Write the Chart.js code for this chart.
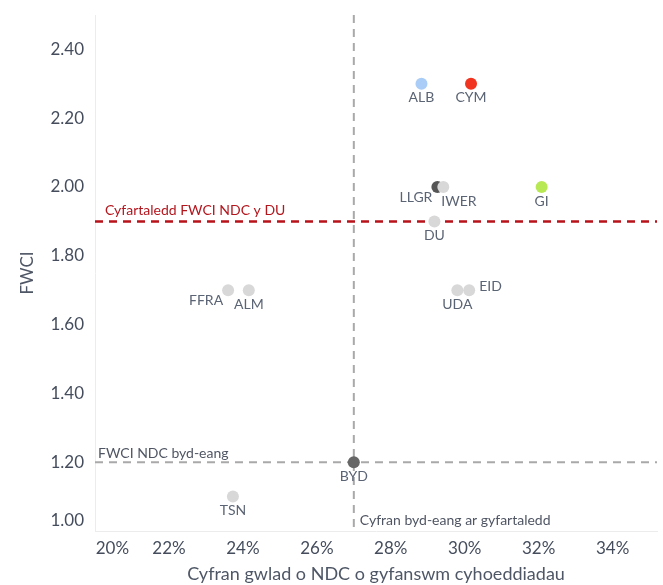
<!DOCTYPE html>
<html>
<head>
<meta charset="utf-8">
<script src="https://cdn.jsdelivr.net/npm/chart.js@4"></script>
<style>
  html, body { margin: 0; padding: 0; background: #fff; }
  #wrap { width: 663px; height: 585px; }
</style>
</head>
<body>
<div id="wrap"><canvas id="myChart"></canvas></div>
<script>
// data
const countries = ["ALB", "CYM", "LLGR", "IWER", "GI", "DU", "FFRA", "ALM", "UDA", "EID", "BYD", "TSN"];
const shareValues = [28.83, 30.17, 29.26, 29.42, 32.08, 29.18, 23.6, 24.16, 29.8, 30.12, 27.0, 23.73];
const fwciValues = [2.30, 2.30, 2.00, 2.00, 2.00, 1.90, 1.70, 1.70, 1.70, 1.70, 1.20, 1.10];
const labelSpots = ["below", "below", "left", "belowRight", "below", "below", "left", "below", "below", "upRight", "below", "below"];
const xTicks = [20, 22, 24, 26, 28, 30, 32, 34];
const yTicks = [1.0, 1.2, 1.4, 1.6, 1.8, 2.0, 2.2, 2.4];
const ukFwci = 1.90;
const worldFwci = 1.20;
const worldShare = 27.0;

const lightGrey = "#d8d8d8";
const pointColours = ["#a9cdf6", "#f0341f", "#555555", lightGrey, "#b9e855", lightGrey,
  lightGrey, lightGrey, lightGrey, lightGrey, "#666666", lightGrey];

const refLines = {
  id: "refLines",
  beforeDatasetsDraw(chart) {
    const { ctx, chartArea: a, scales: { x, y } } = chart;
    ctx.save();
    ctx.lineWidth = 2;
    ctx.setLineDash([8, 6]);

    // world average lines
    ctx.strokeStyle = "#a9a9a9";
    const yw = y.getPixelForValue(worldFwci);
    ctx.beginPath(); ctx.moveTo(a.left, yw); ctx.lineTo(a.right, yw); ctx.stroke();
    const xw = x.getPixelForValue(worldShare);
    ctx.beginPath(); ctx.moveTo(xw, a.top); ctx.lineTo(xw, a.bottom); ctx.stroke();

    // UK average
    ctx.strokeStyle = "#b8121b";
    ctx.lineWidth = 2.5;
    const yu = y.getPixelForValue(ukFwci);
    ctx.beginPath(); ctx.moveTo(a.left, yu); ctx.lineTo(a.right, yu); ctx.stroke();

    ctx.setLineDash([]);
    ctx.font = "14px Lato";
    ctx.textBaseline = "bottom";
    ctx.textAlign = "left";
    ctx.fillStyle = "#b3161d";
    ctx.fillText("Cyfartaledd FWCI NDC y DU", a.left + 10, yu - 4);
    ctx.fillStyle = "#4f5563";
    ctx.fillText("FWCI NDC byd-eang", a.left + 3, yw - 2);
    ctx.textBaseline = "middle";
    ctx.fillText("Cyfran byd-eang ar gyfartaledd", xw + 6, a.bottom - 11);
    ctx.restore();
  },
  afterDatasetsDraw(chart) {
    const { ctx } = chart;
    const pts = chart.getDatasetMeta(0).data;
    ctx.save();
    ctx.font = "14px Lato";
    ctx.fillStyle = "#5b6474";
    ctx.textBaseline = "middle";
    pts.forEach((p, i) => {
      const spot = labelSpots[i];
      if (spot === "below") {
        ctx.textAlign = "center"; ctx.fillText(countries[i], p.x, p.y + 14);
      } else if (spot === "left") {
        ctx.textAlign = "right"; ctx.fillText(countries[i], p.x - 5, p.y + 10);
      } else if (spot === "belowRight") {
        ctx.textAlign = "left"; ctx.fillText(countries[i], p.x - 2, p.y + 14);
      } else {
        ctx.textAlign = "left"; ctx.fillText(countries[i], p.x + 10, p.y - 4);
      }
    });
    ctx.restore();
  }
};

new Chart(document.getElementById("myChart"), {
  type: "scatter",
  data: {
    datasets: [{
      data: shareValues.map((v, i) => ({ x: v, y: fwciValues[i] })),
      backgroundColor: pointColours,
      pointRadius: 6,
      pointHoverRadius: 6,
      borderWidth: 0
    }]
  },
  options: {
    responsive: true,
    maintainAspectRatio: false,
    animation: false,
    layout: { padding: { top: 15, right: 3, left: 0, bottom: 0 } },
    plugins: { legend: { display: false }, tooltip: { enabled: false } },
    scales: {
      x: {
        type: "linear",
        min: 20,
        max: 35.2,
        afterBuildTicks: s => { s.ticks = xTicks.map(v => ({ value: v })); },
        afterFit: s => { s.height = 54; s.paddingLeft = 0; s.paddingRight = 0; },
        grid: { display: false, drawTicks: false },
        border: { color: "#ececec" },
        ticks: {
          padding: 7,
          color: "#454d5d",
          font: { family: "Lato", size: 17 },
          callback: v => v === 20 ? "        20%" : v + "%"
        },
        title: {
          display: true,
          text: "Cyfran gwlad o NDC o gyfanswm cyhoeddiadau",
          color: "#4f5766",
          font: { family: "Lato", size: 18 },
          padding: { top: 0, bottom: 0 }
        }
      },
      y: {
        min: 1.0,
        max: 2.5,
        afterBuildTicks: s => { s.ticks = yTicks.map(v => ({ value: v })); },
        afterFit: s => { s.width = 95; s.paddingTop = 0; s.paddingBottom = 0; },
        grid: { display: false, drawTicks: false },
        border: { color: "#ececec" },
        ticks: {
          padding: 11,
          color: "#454d5d",
          font: { family: "Lato", size: 17 },
          callback: v => v === 1 ? ["1.00", ""] : v.toFixed(2)
        },
        title: {
          display: true,
          text: "FWCI",
          color: "#4f5766",
          font: { family: "Lato", size: 17 },
          padding: { top: 17, bottom: 0 }
        }
      }
    }
  },
  plugins: [refLines]
});
</script>
</body>
</html>
